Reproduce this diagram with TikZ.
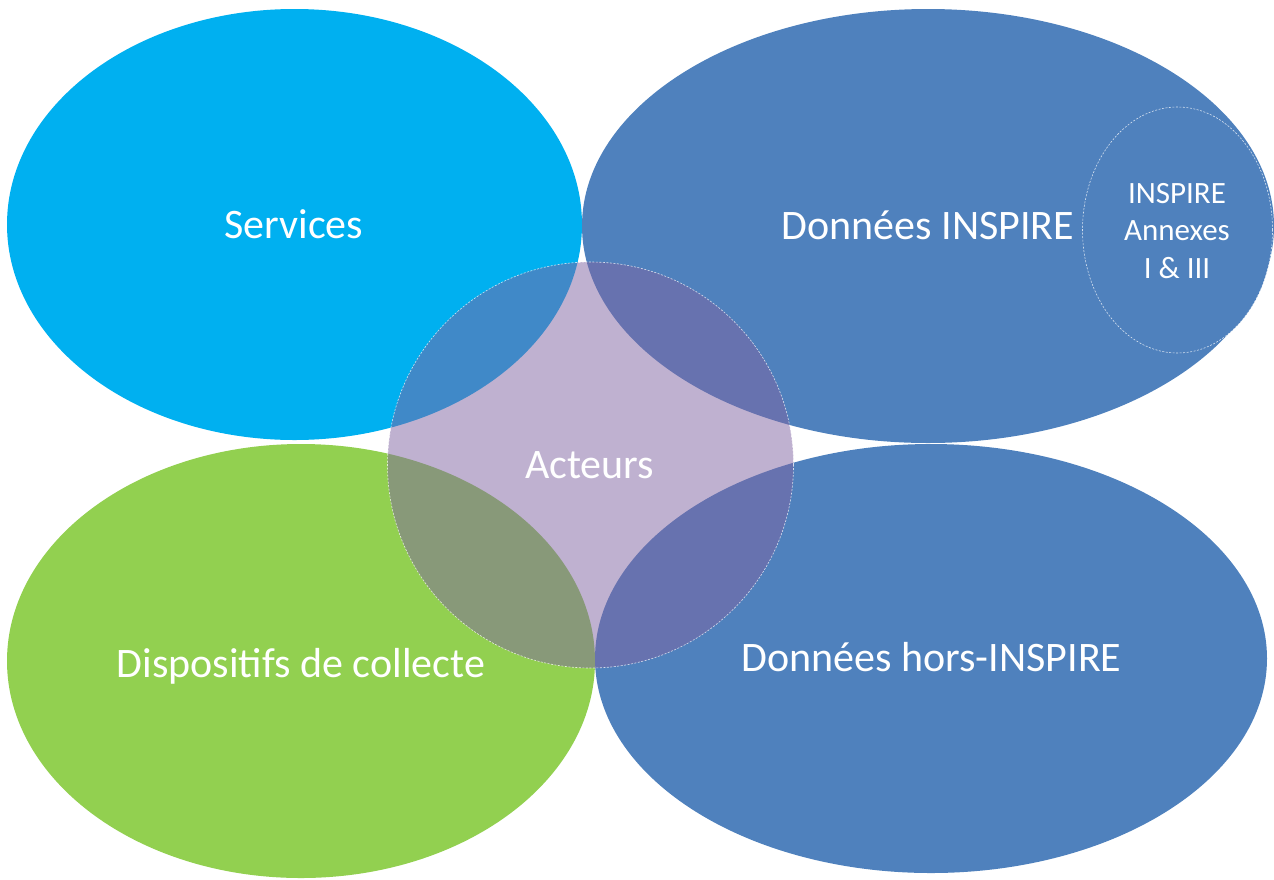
\documentclass[tikz,border=0pt]{standalone}
\usepackage{fontspec}
\setmainfont{Carlito}
\usetikzlibrary{shapes.geometric}
\definecolor{cyanS}{HTML}{00B0F0}
\definecolor{blueD}{HTML}{4F81BD}
\definecolor{greenD}{HTML}{92D050}
\definecolor{purpleA}{HTML}{8064A2}
\tikzset{
  blob/.style={ellipse, inner sep=0pt, draw=none},
  dashedge/.style={draw=white, draw opacity=0.75, line width=0.6pt, dash pattern=on 2pt off 1.5pt},
  bigtxt/.style={anchor=base, inner sep=0pt, text=white, font=\fontsize{42}{50}\selectfont},
  smalltxt/.style={inner sep=0pt, text=white, align=center, font=\fontsize{31}{37.5}\selectfont}
}
\begin{document}
\begin{tikzpicture}[x=1pt,y=-1pt]
\useasboundingbox (0,0) rectangle (1274,879);
\node[blob, fill=cyanS, minimum width=575pt, minimum height=431pt] (services) at (294.5,224.5) {};
\node[blob, fill=blueD, minimum width=692pt, minimum height=434pt] (inspire) at (928,226) {};
\node[blob, fill=blueD, dashedge, minimum width=190pt, minimum height=246pt] (annexes) at (1177.5,230) {};
\node[blob, fill=greenD, minimum width=588pt, minimum height=434pt] (collecte) at (301,661) {};
\node[blob, fill=blueD, minimum width=672pt, minimum height=429pt] (hors) at (931,658.5) {};
\node[circle, inner sep=0pt, minimum size=406pt, fill=purpleA, fill opacity=0.5, dashedge] (acteurs) at (590.5,465) {};
\node[bigtxt] (tservices) at (293.7,238) {Services};
\node[bigtxt] (tinspire) at (928,239) {Données INSPIRE};
\node[bigtxt] (tacteurs) at (589.5,478) {Acteurs};
\node[bigtxt] (tcollecte) at (301,677) {Dispositifs de collecte};
\node[bigtxt] (thors) at (931.5,671) {Données hors-INSPIRE};
\node[smalltxt, anchor=base] (tannexes) at (1177,278) {INSPIRE\\Annexes\\I \& III};
\end{tikzpicture}
\end{document}
